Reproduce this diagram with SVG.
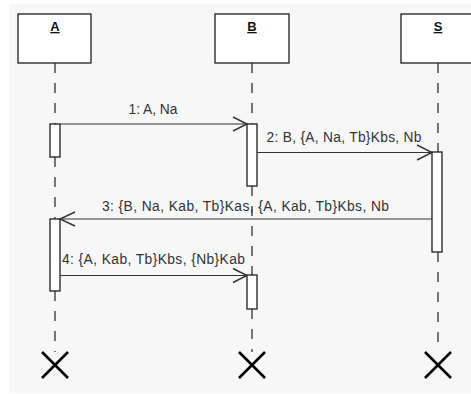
<svg xmlns="http://www.w3.org/2000/svg" width="471" height="394" viewBox="0 0 471 394">
<style>
.box{fill:#fff;stroke:#1e1e1e;stroke-width:1.3}
.act{fill:#fff;stroke:#1e1e1e;stroke-width:1.3}
.ll{stroke:#1e1e1e;stroke-width:1.2;stroke-dasharray:10 10;fill:none}
.lbl{font-family:"Liberation Sans",Arial,sans-serif;font-size:13px;font-weight:bold;fill:#111;text-anchor:middle;text-decoration:underline}
.x{stroke:#000;stroke-width:2.6;fill:none}
.msg{stroke:#333;stroke-width:1.2;fill:none}
.head{stroke:#333;stroke-width:1.4;fill:none}
.mt{font-family:"Liberation Sans",Arial,sans-serif;font-size:13.8px;fill:#333;text-anchor:middle}
</style>
<rect x="9" y="4" width="470" height="389" fill="#f7f7f7"/>
<g id="A">
<path class="ll" d="M55,63V124M55,157V219M55,291V352"/>
<rect class="box" x="18" y="14" width="73" height="49"/>
<text class="lbl" x="55" y="31">A</text>
<rect class="act" x="50" y="124" width="10" height="33"/>
<rect class="act" x="50" y="219" width="10" height="72"/>
<path class="x" d="M42,352L68,378M68,352L42,378"/>
</g>
<g id="B">
<path class="ll" d="M252,63V124M252,186V275M252,309V352"/>
<rect class="box" x="215" y="14" width="74" height="49"/>
<text class="lbl" x="252" y="31">B</text>
<rect class="act" x="247" y="124" width="10" height="62"/>
<rect class="act" x="247" y="275" width="10" height="34"/>
<path class="x" d="M239,352L265,378M265,352L239,378"/>
</g>
<g id="S">
<path class="ll" d="M438,63V152M438,252V352"/>
<rect class="box" x="401" y="14" width="74" height="49"/>
<text class="lbl" x="438" y="31">S</text>
<rect class="act" x="432" y="152" width="10" height="100"/>
<path class="x" d="M425,352L451,378M451,352L425,378"/>
</g>
<g id="connectors">
<path class="msg" d="M60,124H247"/>
<path class="head" d="M233,117L247,124L233,131"/>
<text class="mt" x="153" y="114" textLength="49" lengthAdjust="spacing">1: A, Na</text>
<path class="msg" d="M257,152.5H432"/>
<path class="head" d="M417,145L432,152.5L417,160"/>
<text class="mt" x="344" y="142" textLength="155" lengthAdjust="spacing">2: B, {A, Na, Tb}Kbs, Nb</text>
<path class="msg" d="M432,219H60"/>
<path class="head" d="M75,212L60,219L75,226"/>
<text class="mt" x="245.5" y="211" textLength="287" lengthAdjust="spacing">3: {B, Na, Kab, Tb}Kas, {A, Kab, Tb}Kbs, Nb</text>
<path class="msg" d="M60,275.5H247"/>
<path class="head" d="M233,268.5L247,275.5L233,282.5"/>
<text class="mt" x="153.5" y="264" textLength="183" lengthAdjust="spacing">4: {A, Kab, Tb}Kbs, {Nb}Kab</text>
</g>
</svg>
